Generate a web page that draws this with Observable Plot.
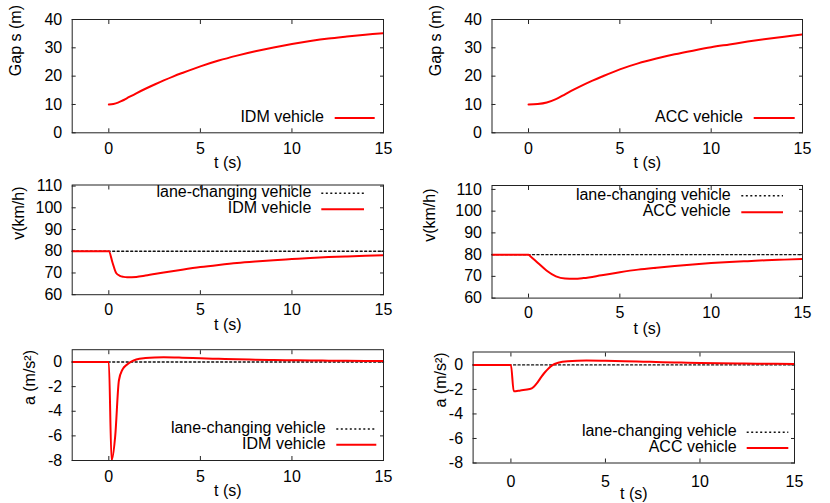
<!DOCTYPE html>
<html><head><meta charset="utf-8">
<script src="https://cdn.jsdelivr.net/npm/d3@7"></script>
<script src="https://cdn.jsdelivr.net/npm/@observablehq/plot@0.6"></script>
<style>
body{margin:0;background:#fff}
#chart{position:relative;width:830px;height:503px;overflow:hidden;background:#fff}
#chart svg{position:absolute}
</style></head><body><div id="chart"></div>
<script>
// ---------- data ----------
const xTicks = [0, 5, 10, 15];
const gapTicks = [0, 10, 20, 30, 40];
const speedTicks = [60, 70, 80, 90, 100, 110];
const accTicks = [-8, -6, -4, -2, 0];

const laneLabel = "lane-changing vehicle";
const idmLabel = "IDM vehicle";
const accLabel = "ACC vehicle";

// gap (m)
const tGapIdm = [0, 0.25, 0.5, 0.75, 1, 1.5, 2, 2.5, 3, 3.5, 4, 5, 6, 7, 8, 9, 10, 11, 12, 13, 14, 15];
const sGapIdm = [10, 10.2, 10.65, 11.4, 12.25, 13.95, 15.55, 17.05, 18.5, 19.85, 21.1, 23.45, 25.5, 27.25, 28.8, 30.15, 31.35, 32.4, 33.3, 34.0, 34.65, 35.2];
const tGapAcc = [0, 0.5, 1, 1.5, 2, 2.5, 3, 3.5, 4, 5, 6, 7, 8, 9, 10, 11, 12, 13, 14, 15];
const sGapAcc = [10, 10.15, 10.7, 11.9, 13.6, 15.3, 16.9, 18.4, 19.8, 22.4, 24.5, 26.2, 27.7, 29.0, 30.2, 31.2, 32.2, 33.1, 33.9, 34.7];

// speed (km/h)
const tLane = [-2, 15];
const vLane = [80, 80];
const aLane = [0, 0];
const tSpeedIdm = [-2, 0, 0.2, 0.4, 0.6, 0.8, 1, 1.5, 2, 3, 4, 5, 6, 7, 8, 9, 10, 11, 12, 13, 14, 15];
const vSpeedIdm = [80, 80, 74.8, 70.0, 68.7, 68.2, 68.0, 68.2, 68.8, 70.2, 71.5, 72.7, 73.7, 74.6, 75.3, 75.9, 76.4, 76.9, 77.3, 77.6, 77.9, 78.2];
const tSpeedAcc = [-2, 0, 0.1, 0.5, 1, 1.5, 2, 2.5, 3, 4, 5, 6, 7, 8, 9, 10, 11, 12, 13, 14, 15];
const vSpeedAcc = [80, 80, 79.3, 76.3, 72.6, 70.0, 69.0, 68.9, 69.2, 70.5, 71.9, 73.1, 74.0, 74.8, 75.5, 76.1, 76.6, 77.0, 77.4, 77.7, 78.0];

// acceleration (m/s^2)
const tAccIdm = [-2, 0, 0.15, 0.35, 0.55, 0.75, 1, 1.25, 1.5, 2, 2.5, 3, 4, 5, 6, 7, 8, 9, 10, 11, 12, 13, 14, 15];
const aAccIdm = [0, 0, -8, -6, -1.5, -0.6, -0.2, 0.05, 0.2, 0.32, 0.37, 0.38, 0.35, 0.3, 0.26, 0.22, 0.19, 0.16, 0.14, 0.12, 0.11, 0.1, 0.09, 0.08];
const tAccAcc = [-2, 0, 0.15, 0.5, 1, 1.2, 1.4, 1.6, 1.8, 2, 2.2, 2.5, 3, 4, 5, 6, 7, 8, 9, 10, 11, 12, 13, 14, 15];
const aAccAcc = [0, 0, -2.15, -2.08, -1.97, -1.8, -1.45, -1.0, -0.6, -0.27, -0.02, 0.17, 0.3, 0.35, 0.33, 0.3, 0.26, 0.22, 0.19, 0.16, 0.14, 0.12, 0.1, 0.09, 0.08];

// ---------- layout ----------
const FONT = "'Liberation Sans', Arial, Helvetica, sans-serif";
const rowTop = [0, 170, 335], rowH = [170, 165, 168];
const colLeft = [0, 415], colW = 415;
const rows = (t, v) => t.map((d, i) => ({t: d, v: v[i]}));
const fmt = d => String(d); // hyphen-minus like the original

const panels = [
  {col:0,row:0, frame:[71.7,19,383,132.3], y:[0,40], yTicks:gapTicks, yLabel:"Gap s (m)", yLabelDx:-56,
   xTickOff:10.3, model:rows(tGapIdm,sGapIdm), curve:"catmull-rom", lane:null, modelLabel:idmLabel,
   legend:{anchor:"bottom", textR:59, l1:48.3, l2:8.3, rowsOff:[14.3]}},
  {col:1,row:0, frame:[491.5,19,802,132.3], y:[0,40], yTicks:gapTicks, yLabel:"Gap s (m)", yLabelDx:-55.7,
   xTickOff:10.3, model:rows(tGapAcc,sGapAcc), curve:"catmull-rom", lane:null, modelLabel:accLabel,
   legend:{anchor:"bottom", textR:59, l1:48.3, l2:7.3, rowsOff:[14.3]}},
  {col:0,row:1, frame:[71.7,184.5,383,294.2], y:[60,110.5], yTicks:speedTicks, yLabel:"v(km/h)", yLabelDx:-53.5,
   xTickOff:8.6, model:rows(tSpeedIdm,vSpeedIdm), curve:"monotone-x", lane:rows(tLane,vLane), modelLabel:idmLabel,
   legend:{anchor:"top", textR:71.7, l1:61.7, l2:19, rowsOff:[8.8,24.8]}},
  {col:1,row:1, frame:[491.5,185,802,297.6], y:[60,111.8], yTicks:speedTicks, yLabel:"v(km/h)", yLabelDx:-61.7,
   xTickOff:8.6, model:rows(tSpeedAcc,vSpeedAcc), curve:"monotone-x", lane:rows(tLane,vLane), modelLabel:accLabel,
   legend:{anchor:"top", textR:71.3, l1:60.7, l2:19, rowsOff:[10.7,27.3]}},
  {col:0,row:2, frame:[71.7,349.2,383,460], y:[-8,1], yTicks:accTicks, yLabel:"a (m/s²)", yLabelDx:-42.8,
   xTickOff:10.1, model:rows(tAccIdm,aAccIdm), curve:"monotone-x", lane:rows(tLane,aLane), modelLabel:idmLabel,
   legend:{anchor:"bottom", textR:57.3, l1:46.7, l2:6.7, rowsOff:[31,15.3]}},
  {col:1,row:2, frame:[472.6,351.5,794,462.5], y:[-8,1.05], yTicks:accTicks, yLabel:"a (m/s²)", yLabelDx:-32.7,
   xTickOff:12.3, model:rows(tAccAcc,aAccAcc), curve:"monotone-x", lane:rows(tLane,aLane), modelLabel:accLabel,
   legend:{anchor:"bottom", textR:57.3, l1:47.3, l2:5.7, rowsOff:[30.2,14.5]}},
];

const chart = document.getElementById("chart");
const DOT = "2,2.5";

for (const p of panels) {
  const left = colLeft[p.col], top = rowTop[p.row], H = rowH[p.row];
  const [L, T, R, B] = p.frame;
  const m = {left: L - left, right: left + colW - R, top: T - top, bottom: top + H - B};
  const marks = [
    Plot.axisY({ticks: p.yTicks, tickFormat: fmt, tickSize: -4, tickPadding: 14, label: null, stroke: "#222", fill: "#000"}),
    Plot.axisY({anchor: "right", ticks: p.yTicks, tickSize: -4, fill: "none", label: null, stroke: "#222"}),
    Plot.axisX({ticks: xTicks, tickFormat: fmt, tickSize: -4, tickPadding: p.xTickOff + 4, label: null, stroke: "#222", fill: "#000"}),
    Plot.axisX({anchor: "top", ticks: xTicks, tickSize: -4, fill: "none", label: null, stroke: "#222"}),
  ];
  if (p.lane) marks.push(Plot.line(p.lane, {x: "t", y: "v", stroke: "#111", strokeWidth: 1.4, strokeDasharray: DOT}));
  marks.push(Plot.line(p.model, {x: "t", y: "v", stroke: "#ff0000", strokeWidth: 2, curve: p.curve, clip: true}));
  marks.push(Plot.frame({stroke: "#222", strokeWidth: 1}));
  marks.push(Plot.text([p.yLabel], {frameAnchor: "left", rotate: -90, dx: p.yLabelDx, lineAnchor: "middle", fill: "#000"}));
  marks.push(Plot.text(["t (s)"], {frameAnchor: "bottom", dy: 30.5, lineAnchor: "middle", fill: "#000"}));

  const svg = Plot.plot({
    width: colW, height: H,
    marginLeft: m.left, marginRight: m.right, marginTop: m.top, marginBottom: m.bottom,
    x: {domain: [-2, 15]},
    y: {domain: p.y},
    style: {fontFamily: FONT, fontSize: "16px", overflow: "visible", background: "transparent", color: "#000"},
    marks
  });
  svg.style.left = left + "px";
  svg.style.top = top + "px";

  // key (legend) inside the frame, gnuplot style
  const g = d3.select(svg).append("g").attr("font-family", FONT).attr("font-size", 16);
  const items = p.lane ? [{label: laneLabel, lane: true}, {label: p.modelLabel, lane: false}] : [{label: p.modelLabel, lane: false}];
  const offs = p.legend.rowsOff;
  items.forEach((it, i) => {
    const yy = p.legend.anchor === "top" ? m.top + offs[i] : H - m.bottom - offs[i];
    const xr = colW - m.right;
    g.append("text").attr("x", xr - p.legend.textR).attr("y", yy - 1).attr("dy", "0.32em")
      .attr("text-anchor", "end").attr("fill", "#000").text(it.label);
    g.append("line").attr("x1", xr - p.legend.l1).attr("x2", xr - p.legend.l2).attr("y1", yy).attr("y2", yy)
      .attr("stroke", it.lane ? "#111" : "#ff0000").attr("stroke-width", it.lane ? 1.4 : 2)
      .attr("stroke-dasharray", it.lane ? DOT : null);
  });
  chart.appendChild(svg);
}
</script></body></html>
